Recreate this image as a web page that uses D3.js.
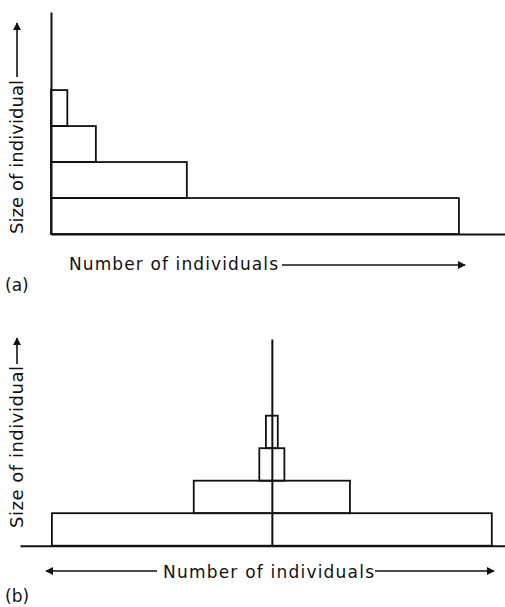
<!DOCTYPE html>
<html><head><meta charset="utf-8">
<script src="https://cdn.jsdelivr.net/npm/d3@7"></script>
<style>
html,body{margin:0;padding:0;background:#fff;}
svg{display:block;}
text{font-family:"DejaVu Sans","Liberation Sans",Arial,sans-serif;fill:#111;}
</style></head>
<body>
<svg id="c" width="505" height="607"></svg>
<script>
// Data
const sizeClasses = [1, 2, 3, 4];
const countsA = [100, 33.3, 11, 4];        // panel (a): number of individuals per size class
const countsB = [100, 35.5, 5.7, 2.7];     // panel (b): half-extent per size class (symmetric)
const yLabel = "Size of individual";
const xLabel = "Number of individuals";
const panelLabels = ["(a)", "(b)"];

const svg = d3.select("#c");
const defs = svg.append("defs");
defs.append("marker").attr("id", "ah").attr("viewBox", "0 0 10 10")
  .attr("refX", 9).attr("refY", 5).attr("markerWidth", 8).attr("markerHeight", 8)
  .attr("markerUnits", "userSpaceOnUse").attr("orient", "auto-start-reverse")
  .append("path").attr("d", "M0,0 L10,5 L0,10 Z").attr("fill", "#111");

function styleAxis(g) {
  g.select(".domain").attr("stroke", "#111").attr("stroke-width", 2);
}

// ---------- Panel (a) ----------
const xA = d3.scaleLinear().domain([0, 111.3]).range([51, 505]);
const yA = d3.scaleLinear().domain([0, 6.17]).range([234, 12]);
const gA = svg.append("g");
gA.selectAll("rect").data(sizeClasses).join("rect")
  .attr("x", xA(0)).attr("y", d => yA(d))
  .attr("width", (d, i) => xA(countsA[i]) - xA(0))
  .attr("height", d => yA(d - 1) - yA(d))
  .attr("fill", "none").attr("stroke", "#111").attr("stroke-width", 1.8);
gA.append("g").attr("transform", `translate(0,${yA(0)})`)
  .call(d3.axisBottom(xA).tickValues([]).tickSizeOuter(0)).call(styleAxis);
gA.append("g").attr("transform", `translate(${xA(0)},0)`)
  .call(d3.axisLeft(yA).tickValues([]).tickSizeOuter(0)).call(styleAxis);

// y label (a)
gA.append("text").attr("transform", "translate(23,234) rotate(-90)")
  .attr("font-size", 18).attr("textLength", 154).attr("lengthAdjust", "spacing").text(yLabel);
gA.append("line").attr("x1", 17).attr("x2", 17).attr("y1", 77).attr("y2", 23)
  .attr("stroke", "#111").attr("stroke-width", 1.6).attr("marker-end", "url(#ah)");
// x label (a)
gA.append("text").attr("x", 69).attr("y", 270)
  .attr("font-size", 17).attr("textLength", 209).attr("lengthAdjust", "spacing").text(xLabel);
gA.append("line").attr("x1", 282).attr("x2", 465).attr("y1", 265).attr("y2", 265)
  .attr("stroke", "#111").attr("stroke-width", 1.6).attr("marker-end", "url(#ah)");
gA.append("text").attr("x", 5).attr("y", 291).attr("font-size", 17).text(panelLabels[0]);

// ---------- Panel (b) ----------
const xB = d3.scaleLinear().domain([-114.5, 106]).range([20, 505]);
const yB = d3.scaleLinear().domain([0, 6.36]).range([545.7, 339]);
const gB = svg.append("g");
gB.selectAll("rect").data(sizeClasses).join("rect")
  .attr("x", (d, i) => xB(-countsB[i])).attr("y", d => yB(d))
  .attr("width", (d, i) => xB(countsB[i]) - xB(-countsB[i]))
  .attr("height", d => yB(d - 1) - yB(d))
  .attr("fill", "none").attr("stroke", "#111").attr("stroke-width", 1.8);
gB.append("g").attr("transform", `translate(0,${yB(0)})`)
  .call(d3.axisBottom(xB).tickValues([]).tickSizeOuter(0)).call(styleAxis);
gB.append("g").attr("transform", `translate(${xB(0)},0)`)
  .call(d3.axisLeft(yB).tickValues([]).tickSizeOuter(0)).call(styleAxis);

// y label (b)
gB.append("text").attr("transform", "translate(23,528) rotate(-90)")
  .attr("font-size", 18).attr("textLength", 162).attr("lengthAdjust", "spacing").text(yLabel);
gB.append("line").attr("x1", 17).attr("x2", 17).attr("y1", 364).attr("y2", 338)
  .attr("stroke", "#111").attr("stroke-width", 1.6).attr("marker-end", "url(#ah)");
// x label (b)
gB.append("text").attr("x", 163).attr("y", 578)
  .attr("font-size", 17).attr("textLength", 211).attr("lengthAdjust", "spacing").text(xLabel);
gB.append("line").attr("x1", 157).attr("x2", 46).attr("y1", 571).attr("y2", 571)
  .attr("stroke", "#111").attr("stroke-width", 1.3).attr("marker-end", "url(#ah)");
gB.append("line").attr("x1", 375).attr("x2", 494).attr("y1", 571).attr("y2", 571)
  .attr("stroke", "#111").attr("stroke-width", 1.6).attr("marker-end", "url(#ah)");
gB.append("text").attr("x", 5).attr("y", 602).attr("font-size", 17).text(panelLabels[1]);
</script>
</body></html>
